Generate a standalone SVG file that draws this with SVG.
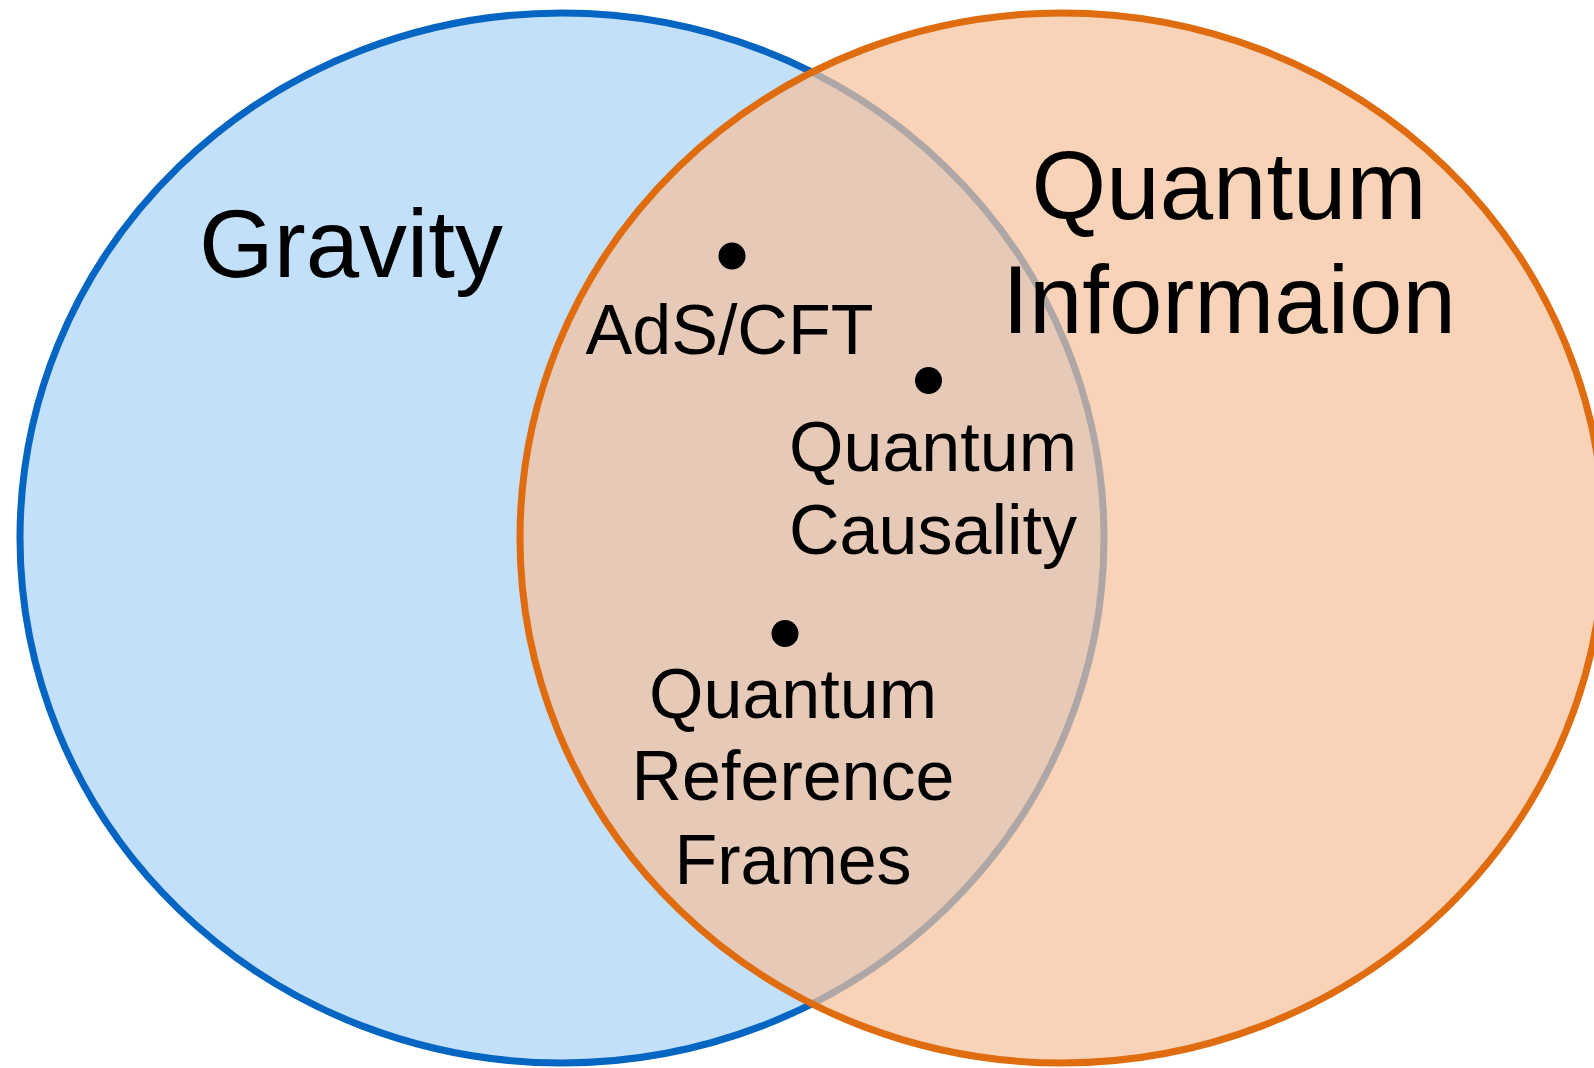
<svg xmlns="http://www.w3.org/2000/svg" width="1594" height="1068" viewBox="0 0 1594 1068">
  <style>
    .set { stroke-width: 7; }
    .gravity { fill: #C2E0FA; stroke: #0565C2; }
    .qi-fill { fill: rgb(245,193,155); fill-opacity: 0.71; stroke: none; }
    .qi-edge { fill: none; stroke: #E06C10; stroke-width: 7; }
    .big { font-family: "Liberation Sans", Arial, sans-serif; font-size: 96px; fill: #000; text-anchor: middle; }
    .small { font-family: "Liberation Sans", Arial, sans-serif; font-size: 70px; fill: #000; text-anchor: middle; }
    .dot { fill: #000; }
  </style>
  <rect width="1594" height="1068" fill="#FFFFFF"/>

  <!-- Gravity set -->
  <g id="gravity">
    <ellipse class="set gravity" cx="562" cy="538" rx="542" ry="525"/>
    <text class="big" x="351" y="276.5">Gravity</text>
  </g>

  <!-- Quantum Information set: translucent fill over the gravity set, opaque outline -->
  <g id="quantum-information">
    <ellipse class="qi-fill" cx="1062" cy="538" rx="542" ry="525"/>
    <ellipse class="qi-edge" cx="1062" cy="538" rx="542" ry="525"/>
    <text class="big" x="1229" y="218.5">Quantum</text>
    <text class="big" x="1229" y="333">Informaion</text>
  </g>

  <!-- Topics in the overlap -->
  <g id="ads-cft">
    <circle class="dot" cx="732" cy="256" r="13.5"/>
    <text class="small" x="729.5" y="353.5">AdS/CFT</text>
  </g>

  <g id="quantum-causality">
    <circle class="dot" cx="928.5" cy="380.5" r="13.5"/>
    <text class="small" x="933" y="471">Quantum</text>
    <text class="small" x="933" y="553.5">Causality</text>
  </g>

  <g id="quantum-reference-frames">
    <circle class="dot" cx="785" cy="633.5" r="13.5"/>
    <text class="small" x="793" y="718">Quantum</text>
    <text class="small" x="793" y="800">Reference</text>
    <text class="small" x="793" y="884">Frames</text>
  </g>
</svg>
